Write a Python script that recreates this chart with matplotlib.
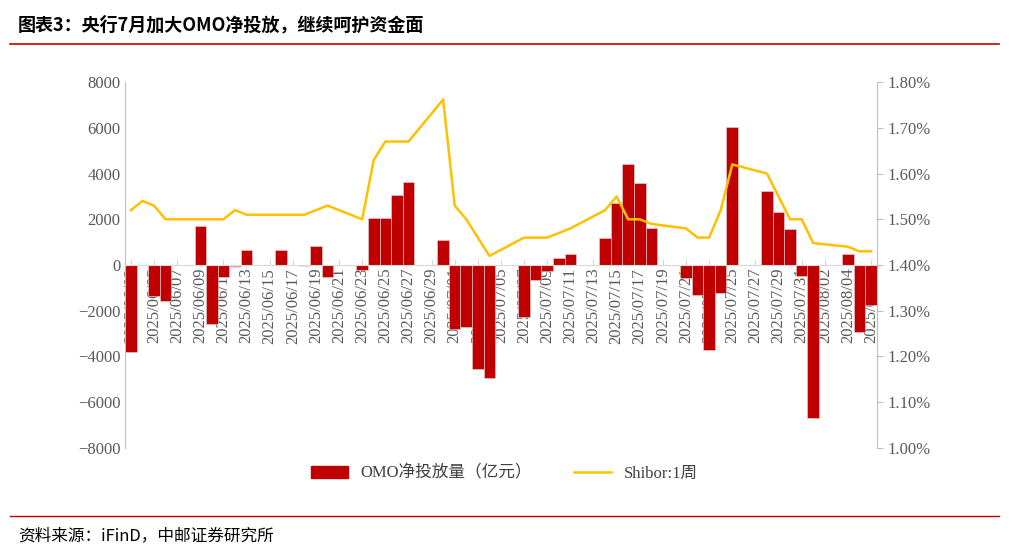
import numpy as np
import pandas as pd
import matplotlib
matplotlib.use("Agg")
import matplotlib.pyplot as plt
from matplotlib.lines import Line2D

plt.rcParams['font.family'] = ['Liberation Serif', 'Noto Sans CJK SC', 'DejaVu Sans']

dates = pd.date_range('2025-06-03', '2025-08-06', freq='D')
labels = [d.strftime('%Y/%m/%d') for d in dates]

omo = {
 '06/03': -3800, '06/05': -1370, '06/06': -1560, '06/09': 1720, '06/10': -2590,
 '06/11': -525, '06/12': -80, '06/13': 670, '06/16': 670, '06/18': -60,
 '06/19': 850, '06/20': -525, '06/23': -220, '06/24': 2070, '06/25': 2070,
 '06/26': 3080, '06/27': 3635, '06/30': 1110, '07/01': -2800, '07/02': -2720,
 '07/03': -4540, '07/04': -4935, '07/07': -2280, '07/08': -660, '07/09': -260,
 '07/10': 307, '07/11': 500, '07/14': 1180, '07/15': 2715, '07/16': 4420,
 '07/17': 3590, '07/18': 1635, '07/21': -570, '07/22': -1315, '07/23': -3720,
 '07/24': -1225, '07/25': 6045, '07/28': 3240, '07/29': 2335, '07/30': 1575,
 '07/31': -500, '08/01': -6700, '08/04': 500, '08/05': -2935, '08/06': -1750,
}
shibor = {
 '06/03': 1.52, '06/04': 1.54, '06/05': 1.53, '06/06': 1.50, '06/09': 1.50,
 '06/10': 1.50, '06/11': 1.50, '06/12': 1.52, '06/13': 1.51, '06/16': 1.51,
 '06/17': 1.51, '06/18': 1.51, '06/19': 1.52, '06/20': 1.53, '06/23': 1.50,
 '06/24': 1.63, '06/25': 1.67, '06/26': 1.67, '06/27': 1.67, '06/30': 1.762,
 '07/01': 1.53, '07/02': 1.50, '07/03': 1.46, '07/04': 1.42, '07/07': 1.46,
 '07/08': 1.46, '07/09': 1.46, '07/10': 1.47, '07/11': 1.48, '07/14': 1.52,
 '07/15': 1.55, '07/16': 1.50, '07/17': 1.50, '07/18': 1.49, '07/21': 1.48,
 '07/22': 1.46, '07/23': 1.46, '07/24': 1.52, '07/25': 1.62, '07/28': 1.60,
 '07/29': 1.55, '07/30': 1.50, '07/31': 1.50, '08/01': 1.448, '08/04': 1.44,
 '08/05': 1.43, '08/06': 1.43,
}

keys = [d.strftime('%m/%d') for d in dates]
x = np.arange(len(dates))
bar_vals = np.array([omo.get(k, 0.0) for k in keys])
sh_x = [i for i, k in enumerate(keys) if k in shibor]
sh_y = [shibor[keys[i]] for i in sh_x]

fig = plt.figure(figsize=(10.09, 5.51), dpi=100)
ax = fig.add_axes([0.124, 0.187, 0.745, 0.664])
bar_colors = ['#f4a0a0' if abs(v) < 100 else '#c00000' for v in bar_vals]
ax.bar(x, bar_vals, width=1.0, color=bar_colors, edgecolor='#d9d9d9', linewidth=0.4, zorder=2)
ax.set_ylim(-8000, 8000)
ax.set_yticks(np.arange(-8000, 8001, 2000))
ax.set_xlim(-0.5, len(x) - 0.5)
ax.spines['bottom'].set_position(('data', 0))
ax.spines['bottom'].set_color('#d9d9d9')
ax.spines['top'].set_visible(False)
ax.spines['right'].set_visible(False)
ax.spines['left'].set_color('#bfbfbf')
ax.set_xticks(x[::2])
ax.tick_params(axis='x', length=4, color='#d9d9d9', direction='in', pad=2,
               labelsize=12, labelcolor='#595959', labelrotation=90)
ax.set_xticklabels(labels[::2])
for t in ax.get_xticklabels():
    t.set_rotation(90)
    t.set_ha('center')
    t.set_va('top')
    t.set_zorder(1)
ax.tick_params(axis='y', length=0, labelsize=12, labelcolor='#595959')

ax2 = ax.twinx()
ax2.plot(sh_x, sh_y, color='#ffc000', linewidth=1.8, zorder=3)
ax2.set_ylim(1.0, 1.8)
ax2.set_yticks(np.arange(1.0, 1.801, 0.1))
ax2.set_yticklabels([f'{v:.2f}%' for v in np.arange(1.0, 1.801, 0.1)])
ax2.tick_params(axis='y', length=4, labelsize=12, labelcolor='#595959', color='#bfbfbf')
ax2.spines['right'].set_color('#bfbfbf')
for s in ['top', 'left', 'bottom']:
    ax2.spines[s].set_visible(False)

handles = [plt.Rectangle((0, 0), 1, 1, color='#c00000'),
           Line2D([], [], color='#ffc000', linewidth=1.8)]
fig.legend(handles, ['OMO净投放量（亿元）', 'Shibor:1周'], loc='center',
           bbox_to_anchor=(0.5, 0.14), ncol=2, frameon=False, fontsize=12,
           handlelength=2.2, columnspacing=2.5, labelcolor='#404040')

fig.text(0.018, 0.955, '图表3：央行7月加大OMO净投放，继续呵护资金面', fontsize=13,
         fontweight='bold', va='center', family=['Noto Sans CJK SC', 'DejaVu Sans'])
fig.add_artist(Line2D([0.01, 0.99], [0.92, 0.92], color='#c00000', linewidth=1.2))
fig.add_artist(Line2D([0.01, 0.99], [0.063, 0.063], color='#c00000', linewidth=1.0))
fig.text(0.018, 0.028, '资料来源：iFinD，中邮证券研究所', fontsize=12, va='center',
         family=['Noto Sans CJK SC', 'DejaVu Sans'])

fig.savefig('out.png', dpi=100)
